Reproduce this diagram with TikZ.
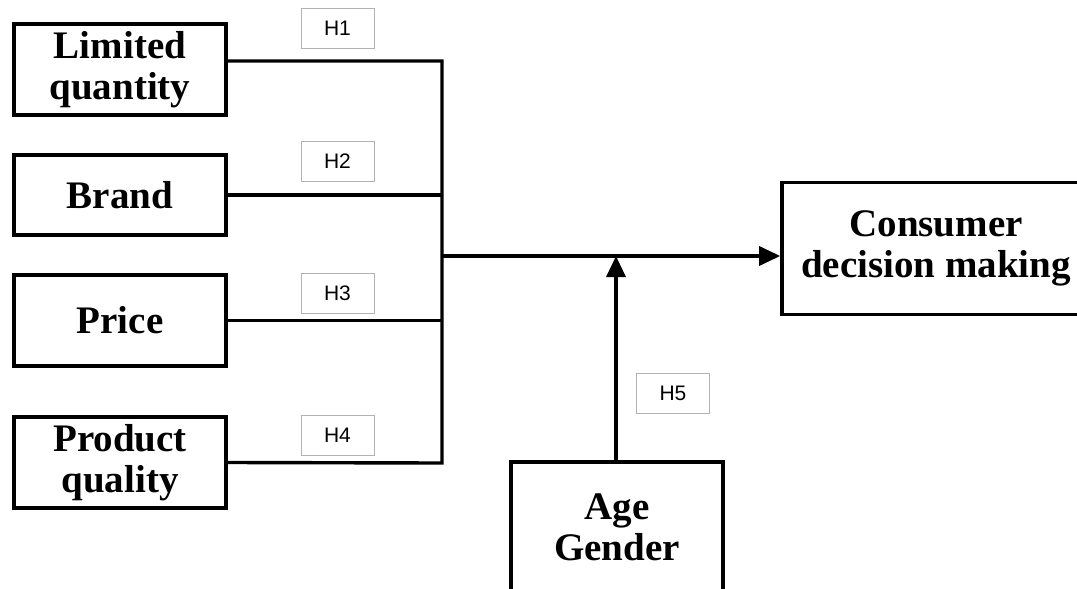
\documentclass[tikz,border=0pt]{standalone}
\usepackage{fontspec}
\setmainfont{Liberation Serif}
\newfontfamily\hfont{Liberation Sans}
\tikzset{var/.style = {draw, line width = 3.6pt, align = center, inner sep = 0, minimum width = 212pt, font = \fontsize{39}{41}\selectfont\bfseries}}
\tikzset{hyp/.style = {draw = gray!60, line width = 1pt, inner sep = 0, minimum width = 73pt, minimum height = 40pt, font = \hfont\fontsize{21}{22}\selectfont}}
\tikzset{link/.style = {line width = 3.4pt}}
\tikzset{arr/.style = {line width = 3.4pt, -{Triangle[length=21pt, width=19pt]}}}
\usetikzlibrary{arrows.meta}

\begin{document}
\begin{tikzpicture}[x=1pt, y=-1pt]
\useasboundingbox (0,0) rectangle (1077,589);
\node[var, minimum height = 91pt] (lq) at (120,69.5) {Limited\\quantity};
\node[var, minimum height = 80pt] (br) at (120,195) {Brand};
\node[var, minimum height = 91pt] (pr) at (120,320.5) {Price};
\node[var, minimum height = 91pt] (pq) at (120,462.5) {Product\\quality};
\node[var, minimum width = 308pt, minimum height = 132pt] (cdm) at (936,248.5) {Consumer\\decision making};
\node[var, minimum height = 130pt] (ag) at (617,527) {Age\\Gender};
\node[hyp] (h1) at (337.5,28) {H1};
\node[hyp] (h2) at (337.5,161) {H2};
\node[hyp] (h3) at (337.5,293) {H3};
\node[hyp] (h4) at (337.5,435) {H4};
\node[hyp] (h5) at (673,393) {H5};
\coordinate (j1) at (442,61);
\coordinate (j4) at (442,463);
\coordinate (jm) at (442,256);
\coordinate (m) at (616,256);
\draw[link] ([yshift=8.5pt]lq.east) -- (j1) -- (j4) -- (pq.east);
\draw[link] (br.east) -- (br.east -| j1);
\draw[link] (pr.east) -- (pr.east -| j1);
\draw[arr] (jm) -- (cdm.west |- jm);
\draw[arr] (ag.north -| m) -- (m);
\end{tikzpicture}
\end{document}
